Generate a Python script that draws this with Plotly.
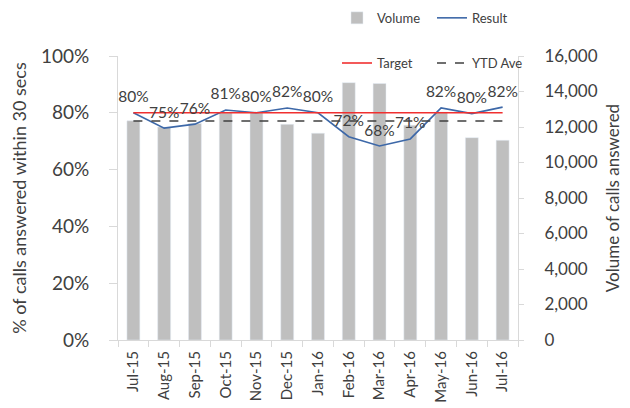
import plotly.graph_objects as go

months = ["Jul-15", "Aug-15", "Sep-15", "Oct-15", "Nov-15", "Dec-15", "Jan-16",
          "Feb-16", "Mar-16", "Apr-16", "May-16", "Jun-16", "Jul-16"]
volume = [12350, 12000, 12200, 12800, 12800, 12150, 11650,
          14500, 14450, 12100, 12850, 11400, 11250]
result = [0.80, 0.746, 0.76, 0.81, 0.80, 0.817, 0.80,
          0.716, 0.683, 0.708, 0.817, 0.797, 0.82]
result_labels = ["80%", "75%", "76%", "81%", "80%", "82%", "80%",
                 "72%", "68%", "71%", "82%", "80%", "82%"]
target = [0.80] * len(months)
ytd_ave = [0.771] * len(months)

FONT = "Lato, Calibri, sans-serif"
TXT = "#404040"
AXC = "#d9d9d9"

fig = go.Figure()
fig.add_trace(go.Bar(x=months, y=volume, name="Volume", marker_color="#bfbfbf",
                     yaxis="y", legend="legend"))
fig.add_trace(go.Scatter(x=months, y=result, name="Result", mode="lines",
                         line=dict(color="#3d68a8", width=1.6),
                         yaxis="y2", legend="legend"))
fig.add_trace(go.Scatter(x=months, y=target, name="Target", mode="lines",
                         line=dict(color="#f03030", width=1.6),
                         yaxis="y2", legend="legend2"))
fig.add_trace(go.Scatter(x=months, y=ytd_ave, name="YTD Ave", mode="lines",
                         line=dict(color="#404040", width=1.4, dash="dash"),
                         yaxis="y2", legend="legend2"))
fig.add_trace(go.Scatter(x=months, y=result, mode="markers+text", showlegend=False,
                         text=result_labels, textposition="top center",
                         textfont=dict(size=15.5, color=TXT, family=FONT),
                         marker=dict(size=9, opacity=0), hoverinfo="skip",
                         yaxis="y2"))

fig.update_layout(
    width=622, height=400,
    margin=dict(l=110, r=112, t=48, b=68, autoexpand=False),
    paper_bgcolor="white", plot_bgcolor="white",
    font=dict(family=FONT, color=TXT),
    bargap=0.58,
    showlegend=True,
    xaxis=dict(type="category", range=[-0.5, 12.5], tickangle=-90,
               tickfont=dict(size=15, color=TXT), showline=True, linecolor=AXC,
               ticks="outside", tickson="boundaries", tickcolor=AXC, ticklen=6,
               showgrid=False, ticklabelstandoff=4),
    yaxis=dict(side="right", range=[0, 16000], dtick=2000, tickformat=",",
               tickfont=dict(size=17, color=TXT), showline=True, linecolor=AXC,
               ticks="outside", tickcolor=AXC, ticklen=5, showgrid=False,
               zeroline=False, ticklabelstandoff=17,
               title=dict(text="Volume of calls answered", font=dict(size=17, color=TXT),
                          standoff=10)),
    yaxis2=dict(overlaying="y", side="left", range=[0, 1], dtick=0.2, tickformat=".0%",
                tickfont=dict(size=19, color=TXT), showline=True, linecolor=AXC,
                ticks="outside", tickcolor=AXC, ticklen=8, showgrid=False,
                zeroline=False, ticklabelstandoff=16,
                title=dict(text="% of calls answered within 30 secs",
                           font=dict(size=18, color=TXT), standoff=25)),
    legend=dict(orientation="h", x=0.5475, y=1.187, xref="paper", yref="paper",
                xanchor="left", yanchor="top", font=dict(size=13, color=TXT),
                bgcolor="rgba(0,0,0,0)", entrywidth=50, itemwidth=30),
    legend2=dict(orientation="h", x=0.5475, y=1.028, xref="paper", yref="paper",
                 xanchor="left", yanchor="top", font=dict(size=13, color=TXT),
                 bgcolor="rgba(0,0,0,0)", entrywidth=50, itemwidth=30),
)

fig.write_html("out.html")
